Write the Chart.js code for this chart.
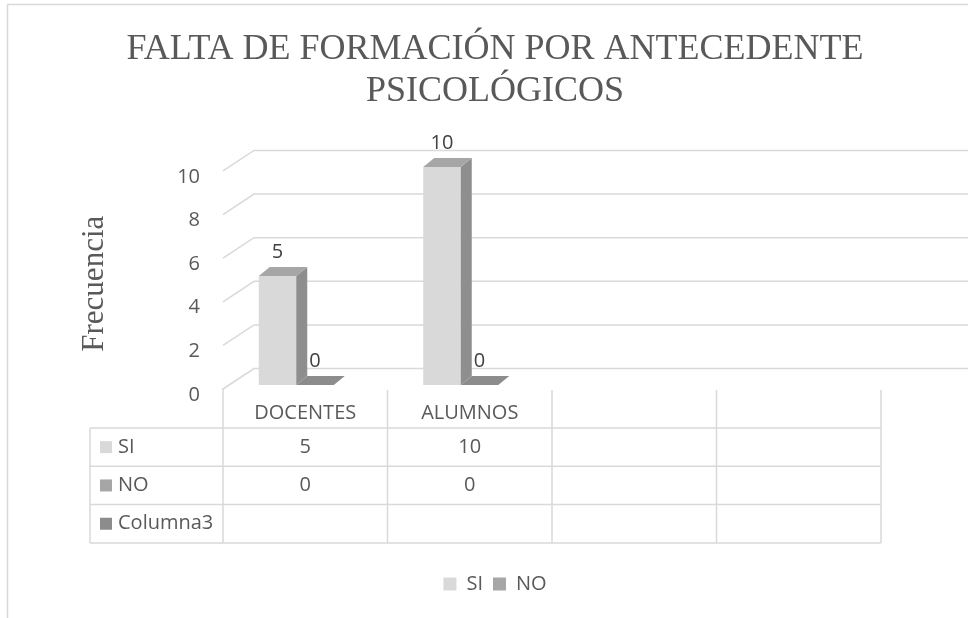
<!DOCTYPE html>
<html>
<head>
<meta charset="utf-8">
<script src="https://cdn.jsdelivr.net/npm/chart.js@4.4.1/dist/chart.umd.min.js"></script>
<style>
  body { margin: 0; background: #fff; }
  #chart { display: block; }
</style>
</head>
<body>
<canvas id="chart" width="968" height="618"></canvas>
<script>
// Data
const categories = ['DOCENTES', 'ALUMNOS', '', ''];
const siValues = [5, 10, null, null];
const noValues = [0, 0, null, null];
const columna3Values = [null, null, null, null];
const seriesNames = ['SI', 'NO', 'Columna3'];
const yMin = 0, yMax = 10, yStep = 2;

// Styling
const frontColors = ['#d9d9d9', '#a6a6a6', '#8c8c8c'];
const topColors = ['#a6a6a6', '#8c8c8c'];
const sideColors = ['#8e8e8e', '#7f7f7f'];
const textColor = '#595959';
const labelColor = '#404040';
const lineColor = '#d9d9d9';
const sansFont = '"Open Sans", sans-serif';
const serifFont = '"Liberation Serif", serif';

// fake 3D offsets, in pixels
const wallShift = 9;
const gridFront = { x: 0, y: 4 };
const gridBack = { x: 31, y: -16.5 };
const barDepth = { x: 11, y: -9 };

function poly(ctx, pts, color) {
  ctx.beginPath();
  ctx.moveTo(pts[0][0], pts[0][1]);
  for (let i = 1; i < pts.length; i++) ctx.lineTo(pts[i][0], pts[i][1]);
  ctx.closePath();
  ctx.fillStyle = color;
  ctx.fill();
}

const excel3d = {
  id: 'excel3d',
  beforeDatasetsDraw(chart) {
    const ctx = chart.ctx;
    const x = chart.scales.x, y = chart.scales.y;
    ctx.save();

    // outer frame (cropped on right and bottom)
    ctx.strokeStyle = lineColor;
    ctx.lineWidth = 1.5;
    ctx.strokeRect(7.5, 4.5, chart.width + 10, chart.height + 10);

    // back wall gridlines with slanted side-wall part
    const x0 = x.left + wallShift;
    for (let v = yMin; v <= yMax; v += yStep) {
      const py = y.getPixelForValue(v);
      ctx.beginPath();
      ctx.moveTo(x0 + gridFront.x, py + gridFront.y);
      ctx.lineTo(x0 + gridBack.x, py + gridBack.y);
      ctx.lineTo(chart.width, py + gridBack.y);
      ctx.stroke();
    }

    // data table under the plot
    const colW = (x.right - x.left) / categories.length;
    const headTop = y.bottom + 5;
    const rowTop = y.bottom + 43;
    const rowH = 38.3;
    const keyLeft = 90;
    const rows = [siValues, noValues, columna3Values];
    const tableBottom = rowTop + rowH * rows.length;

    ctx.beginPath();
    for (let i = 0; i <= categories.length; i++) {
      const cx = x0 + i * colW;
      ctx.moveTo(cx, i === 0 ? y.bottom + 3 : headTop);
      ctx.lineTo(cx, tableBottom);
    }
    ctx.moveTo(keyLeft, rowTop);
    ctx.lineTo(keyLeft, tableBottom);
    for (let r = 0; r <= rows.length; r++) {
      const ry = rowTop + r * rowH;
      ctx.moveTo(keyLeft, ry);
      ctx.lineTo(x0 + categories.length * colW, ry);
    }
    ctx.stroke();

    ctx.font = '20px ' + sansFont;
    ctx.textBaseline = 'middle';
    rows.forEach((vals, r) => {
      const cy = rowTop + r * rowH + rowH / 2;
      ctx.fillStyle = frontColors[r];
      ctx.fillRect(keyLeft + 10, cy - 6, 12, 12);
      ctx.fillStyle = textColor;
      ctx.textAlign = 'left';
      ctx.fillText(seriesNames[r], keyLeft + 28, cy);
      ctx.textAlign = 'center';
      vals.forEach((v, i) => {
        if (v === null) return;
        ctx.fillText(String(v), x0 + i * colW + colW / 2, cy);
      });
    });
    ctx.restore();
  },
  afterDatasetsDraw(chart) {
    const ctx = chart.ctx;
    ctx.save();
    chart.data.datasets.forEach((ds, di) => {
      const meta = chart.getDatasetMeta(di);
      meta.data.forEach((b, i) => {
        if (ds.data[i] === null) return;
        const l = b.x - b.width / 2, r = b.x + b.width / 2;
        const t = b.y, btm = b.base;
        const dx = barDepth.x, dy = barDepth.y;
        if (btm - t > 0.5) {
          poly(ctx, [[r, t], [r + dx, t + dy], [r + dx, btm + dy], [r, btm]], sideColors[di]);
        }
        poly(ctx, [[l, t], [r, t], [r + dx, t + dy], [l + dx, t + dy]], topColors[di]);
      });
    });
    // value labels
    ctx.font = '20px ' + sansFont;
    ctx.fillStyle = labelColor;
    ctx.textAlign = 'center';
    ctx.textBaseline = 'middle';
    chart.data.datasets.forEach((ds, di) => {
      chart.getDatasetMeta(di).data.forEach((b, i) => {
        if (ds.data[i] === null) return;
        ctx.fillText(String(ds.data[i]), b.x, b.y - 24);
      });
    });
    ctx.restore();
  }
};

new Chart(document.getElementById('chart'), {
  type: 'bar',
  data: {
    labels: categories,
    datasets: [
      { label: seriesNames[0], data: siValues, backgroundColor: frontColors[0], borderWidth: 0 },
      { label: seriesNames[1], data: noValues, backgroundColor: frontColors[1], borderWidth: 0 }
    ]
  },
  options: {
    responsive: false,
    animation: false,
    devicePixelRatio: 1,
    categoryPercentage: 0.456,
    barPercentage: 1,
    layout: { padding: { left: 22, right: 0, top: 0, bottom: 14 } },
    plugins: {
      tooltip: { enabled: false },
      title: {
        display: true,
        text: ['FALTA DE FORMACIÓN POR ANTECEDENTE', 'PSICOLÓGICOS'],
        color: textColor,
        font: { family: serifFont, size: 36, weight: 'normal', lineHeight: 1.18 },
        padding: { top: 28, bottom: 54 }
      },
      legend: {
        position: 'bottom',
        labels: {
          color: textColor,
          boxWidth: 13,
          boxHeight: 13,
          padding: 10,
          font: { family: sansFont, size: 20 }
        }
      }
    },
    scales: {
      x: {
        grid: { display: false, drawTicks: false },
        border: { display: false },
        ticks: { color: textColor, padding: 16, labelOffset: wallShift, font: { family: sansFont, size: 20 } },
        afterFit(scale) { scale.height = 179; }
      },
      y: {
        min: yMin,
        max: yMax,
        grid: { display: false, drawTicks: false },
        border: { display: false },
        ticks: { stepSize: yStep, color: textColor, padding: 14, labelOffset: 10, font: { family: sansFont, size: 20 } },
        title: {
          display: true,
          text: 'Frecuencia  ',
          color: textColor,
          font: { family: serifFont, size: 31, weight: 'normal', lineHeight: 1.2 },
          padding: { top: 54, bottom: 0 }
        },
        afterFit(scale) { scale.width = 192; }
      },
      y2: {
        position: 'right',
        grid: { display: false, drawTicks: false },
        border: { display: false },
        ticks: { display: false },
        afterFit(scale) { scale.width = 96; }
      }
    }
  },
  plugins: [excel3d]
});
</script>
</body>
</html>
